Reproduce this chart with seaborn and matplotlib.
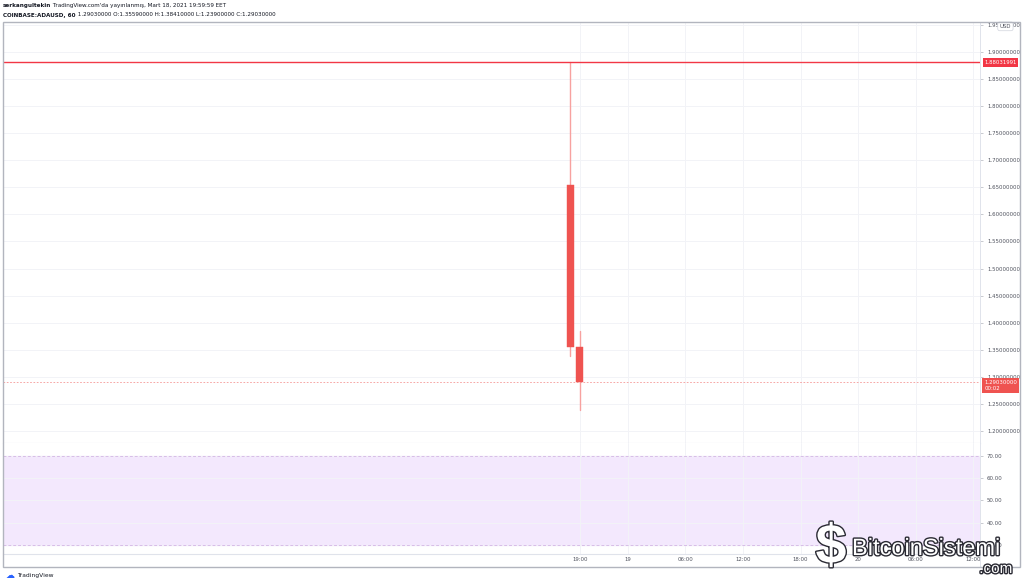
import matplotlib
matplotlib.use("Agg")
import matplotlib.pyplot as plt
import matplotlib.patheffects as pe
from matplotlib.patches import Rectangle
import matplotlib.transforms as mtransforms
import numpy as np
import pandas as pd
import seaborn as sns

# ---------------- data ----------------
candle_hours = [18, 19]                 # hours since Mar 18 00:00
opens = [1.655, 1.3559]
highs = [1.88031991, 1.3841]
lows = [1.338, 1.239]
closes = [1.3559, 1.2903]
high_line = 1.88031991
last_close = 1.2903

price_ticks = [1.20, 1.25, 1.30, 1.35, 1.40, 1.45, 1.50, 1.55, 1.60, 1.65,
               1.70, 1.75, 1.80, 1.85, 1.90, 1.95]
rsi_ticks = [30, 40, 50, 60, 70]
time_ticks = [19, 24, 30, 36, 42, 48, 54, 60]
time_labels = ["19:00", "19", "06:00", "12:00", "18:00", "20", "06:00", "12:00"]

header1_bold = "serkangultekin"
header1 = " TradingView.com'da yayınlanmış, Mart 18, 2021 19:59:59 EET"
header2_bold = "COINBASE:ADAUSD, 60"
header2 = " 1.29030000 O:1.35590000 H:1.38410000 L:1.23900000 C:1.29030000"

# ---------------- style ----------------
sns.set_theme(style="white")
plt.rcParams['font.family'] = ['DejaVu Sans']
W, H = 1024, 585
fig = plt.figure(figsize=(W / 100, H / 100), dpi=100)
fig.patch.set_facecolor("white")
renderer = fig.canvas.get_renderer()

def fy(px):
    return 1 - px / H

L, R = 3 / W, 980 / W
ax = fig.add_axes([L, fy(443), R - L, fy(22) - fy(443)])
ax2 = fig.add_axes([L, fy(554), R - L, fy(443) - fy(554)], sharex=ax)

red = "#ef5350"
wick = "#f7a19f"
grid_c = "#f2f3f7"
txt_c = "#50535e"
frame_c = "#b2b5be"
fs = 3.9
hfs = 4.1

# ---------------- price panel ----------------
xmin, xmax = -41.1, 60.7
ax.set_xlim(xmin, xmax)
ax.set_ylim(1.178, 1.955)

wdf = pd.DataFrame({
    "hour": [h for h in candle_hours for _ in range(2)],
    "price": [v for lo, hi in zip(lows, highs) for v in (lo, hi)],
    "candle": [i for i in range(len(candle_hours)) for _ in range(2)],
})
sns.lineplot(data=wdf, x="hour", y="price", units="candle", estimator=None,
             color=wick, lw=1.0, ax=ax, legend=False, zorder=3)
ax.bar(candle_hours, [abs(c - o) for o, c in zip(opens, closes)],
       bottom=[min(o, c) for o, c in zip(opens, closes)],
       width=0.72, color=red, edgecolor=red, lw=0.3, zorder=4)

ax.axhline(high_line, color="#f23645", lw=1.0, zorder=5)
ax.axhline(last_close, color=red, lw=0.6, ls=(0, (2, 2)), alpha=0.6, zorder=2)

ax.set_yticks(price_ticks)
ax.set_yticklabels([f"{v:.8f}" for v in price_ticks])
ax.yaxis.tick_right()
ax.set_xticks(time_ticks)
ax.tick_params(axis="x", bottom=False, labelbottom=False, length=0)
ax.tick_params(axis="y", right=True, length=2.5, width=0.5, color=frame_c,
               labelsize=fs, labelcolor=txt_c, pad=2.5)
ax.grid(True, color=grid_c, lw=0.7)
ax.set_xlabel("")
ax.set_ylabel("")
for s in ax.spines.values():
    s.set_visible(False)
ax.spines["bottom"].set_visible(True)
ax.spines["bottom"].set_color("#d1d4dc")
ax.spines["bottom"].set_linewidth(0.8)

tr = mtransforms.blended_transform_factory(ax.transAxes, ax.transData)
ax.text(1.0045, high_line, "1.88031991", transform=tr, ha="left", va="center",
        fontsize=fs, color="white", zorder=10, clip_on=False,
        bbox=dict(boxstyle="square,pad=0.3", fc="#f23645", ec="none"))
ax.text(1.0045, last_close - 0.006, "1.29030000\n00:02", transform=tr, ha="left",
        va="center", fontsize=fs, color="white", zorder=10, clip_on=False,
        linespacing=1.3,
        bbox=dict(boxstyle="square,pad=0.4", fc=red, ec="none"))
ax.text(1.026, 1.947, "USD", transform=tr, ha="center", va="center",
        fontsize=fs, color=txt_c, zorder=11, clip_on=False,
        bbox=dict(boxstyle="round,pad=0.35", fc="white", ec="#d1d4dc", lw=0.5))

# ---------------- RSI panel ----------------
ax2.set_ylim(26, 75.6)
ax2.axhspan(30, 70, color="#f3e8fd", zorder=0)
ax2.axhline(70, color="#d8bde8", lw=0.7, ls=(0, (3, 2)), zorder=1)
ax2.axhline(30, color="#d8bde8", lw=0.7, ls=(0, (3, 2)), zorder=1)
ax2.set_yticks(rsi_ticks)
ax2.set_yticklabels([f"{v:.2f}" for v in rsi_ticks])
ax2.yaxis.tick_right()
ax2.set_xticks(time_ticks)
ax2.set_xticklabels(time_labels)
ax2.tick_params(axis="x", bottom=False, length=0, labelsize=fs,
                labelcolor=txt_c, pad=2.0)
ax2.tick_params(axis="y", right=True, length=2.5, width=0.5, color=frame_c,
                labelsize=fs, labelcolor=txt_c, pad=2.5)
ax2.grid(True, color=grid_c, lw=0.7)
ax2.set_axisbelow(True)
for s in ax2.spines.values():
    s.set_visible(False)
ax2.spines["bottom"].set_visible(True)
ax2.spines["bottom"].set_color("#e0e3eb")
ax2.spines["bottom"].set_linewidth(0.8)

# ---------------- frame & decorations ----------------
fig.patches.append(Rectangle((3 / W, fy(567)), 1017 / W, fy(22) - fy(567),
                             transform=fig.transFigure, fill=False,
                             ec=frame_c, lw=1.0, zorder=20))
fig.add_artist(plt.Line2D([980 / W, 980 / W], [fy(567), fy(22)],
                          transform=fig.transFigure, color="#e0e3eb", lw=0.7))

def header_line(ypx, bold, rest):
    t = fig.text(3 / W, fy(ypx), bold, fontsize=hfs, fontweight="bold",
                 color="#131722", va="center", ha="left")
    bb = t.get_window_extent(renderer=renderer)
    fig.text(bb.x1 / W, fy(ypx), rest, fontsize=hfs, color="#131722",
             va="center", ha="left")

header_line(6, header1_bold, header1)
header_line(15, header2_bold, header2)

fig.text(6 / W, fy(576), "☁", fontsize=6.5, color="#2962ff",
         va="center", ha="left")
fig.text(17 / W, fy(576), "TradingView", fontsize=4.3, color="#131722",
         va="center", ha="left")

outline = [pe.withStroke(linewidth=2.0, foreground="#2a2a33")]
fig.text(831 / W, fy(549), "$", fontsize=40, fontweight="bold", color="white",
         va="center", ha="center", path_effects=outline, zorder=30,
         family="Liberation Sans")
fig.text(852 / W, fy(549), "BitcoinSistemi", fontsize=17, color="white",
         va="center", ha="left", path_effects=outline, zorder=30,
         family="Liberation Sans")
fig.text(1012 / W, fy(569), ".com", fontsize=11, color="white",
         va="center", ha="right", path_effects=outline, zorder=30,
         family="Liberation Sans")

fig.savefig("out.png", dpi=100, facecolor="white")
